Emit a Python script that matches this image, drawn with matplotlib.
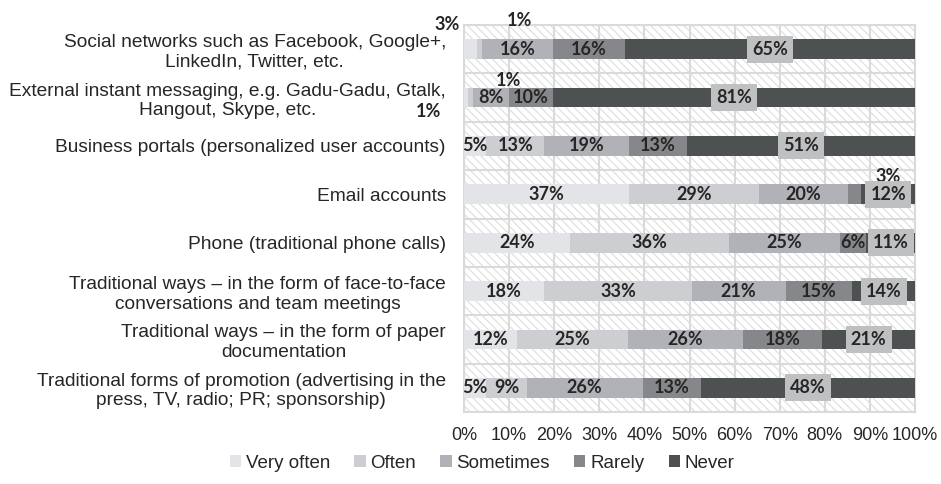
import numpy as np
import matplotlib
matplotlib.use("Agg")
import matplotlib.pyplot as plt
from matplotlib.patches import Rectangle

categories = [
    "Social networks such as Facebook, Google+,\nLinkedIn, Twitter, etc.",
    "External instant messaging, e.g. Gadu-Gadu, Gtalk,\nHangout, Skype, etc.",
    "Business portals (personalized user accounts)",
    "Email accounts",
    "Phone (traditional phone calls)",
    "Traditional ways \u2013 in the form of face-to-face\nconversations and team meetings",
    "Traditional ways \u2013 in the form of paper\ndocumentation",
    "Traditional forms of promotion (advertising in the\npress, TV, radio; PR; sponsorship)",
]
series = ["Very often", "Often", "Sometimes", "Rarely", "Never"]
very_often = [3, 1, 5, 37, 24, 18, 12, 5]
often = [1, 1, 13, 29, 36, 33, 25, 9]
sometimes = [16, 8, 19, 20, 25, 21, 26, 26]
rarely = [16, 10, 13, 3, 6, 15, 18, 13]
never = [65, 81, 51, 12, 11, 14, 21, 48]
xticks = [0, 10, 20, 30, 40, 50, 60, 70, 80, 90, 100]

colors = ["#e3e4e7", "#cdced2", "#b0b2b7", "#85878a", "#4d5152"]
box_color = "#bfc0c2"
grid_color = "#dadada"

# labels that sit outside the bar: (row, series) -> (x, y) in data units
moved = {
    (0, 0): (-3.8, -0.50),
    (0, 1): (12.2, -0.60),
    (1, 1): (9.8, 0.65),
    (1, 0): (-7.8, 1.29),
    (3, 3): (94.0, 2.63),
}

data = np.array([very_often, often, sometimes, rarely, never], dtype=float)
shares = data / data.sum(axis=0) * 100  # 100% stacked like Excel
y = np.arange(len(categories))

fig = plt.figure(figsize=(9.41, 4.84), dpi=100)
ax = fig.add_axes([464 / 941, 1 - 412 / 484, 451 / 941, 387 / 484])

plt.rcParams["hatch.linewidth"] = 0.9
ax.add_patch(Rectangle((0, 0), 1, 1, transform=ax.transAxes, facecolor="white",
                       edgecolor="#e0e0e0", hatch="\\\\\\\\", lw=0, zorder=0))

left = np.zeros(len(categories))
for k, name in enumerate(series):
    ax.barh(y, shares[k], left=left, height=0.41, color=colors[k], label=name, zorder=3)
    for i in range(len(categories)):
        txt = f"{int(data[k, i])}%"
        cx = left[i] + shares[k, i] / 2
        kw = dict(ha="center", va="center", fontsize=13, fontweight="bold",
                  family="Lato", color="#262626", zorder=5)
        if (i, k) in moved:
            mx, my = moved[(i, k)]
            ax.text(mx, my, txt, clip_on=False, **kw)
        elif k == 4:
            ax.text(cx, y[i], txt, bbox=dict(boxstyle="square,pad=0.28", fc=box_color, ec="none"), **kw)
        else:
            ax.text(cx, y[i], txt, **kw)
    left += shares[k]

ax.set_xlim(0, 100)
ax.set_ylim(len(categories) - 0.5, -0.5)
ax.set_xticks(xticks)
ax.set_xticklabels([f"{v}%" for v in xticks], family="Liberation Sans", fontsize=13, color="#262626")
ax.set_yticks(y)
ax.set_yticklabels(categories, family="Liberation Sans", fontsize=13.8, color="#262626",
                   multialignment="center")
ax.set_yticks(np.arange(len(categories) + 1) - 0.5, minor=True)
ax.tick_params(which="both", length=0)
ax.tick_params(axis="x", pad=11)
ax.tick_params(axis="y", pad=13)
ax.grid(axis="x", color=grid_color, lw=1.5, zorder=1)
ax.grid(axis="y", which="minor", color=grid_color, lw=1.5, zorder=1)
ax.set_axisbelow(True)
for s in ax.spines.values():
    s.set_color(grid_color)
    s.set_linewidth(1.5)

fig.legend(loc="center", bbox_to_anchor=(482 / 941, 1 - 463 / 484), ncol=5, frameon=False,
           prop={"family": "Liberation Sans", "size": 13.5}, handlelength=0.6, handleheight=0.6,
           handletextpad=0.25, columnspacing=1.3, labelcolor="#262626")

fig.savefig("out.png", dpi=100)
